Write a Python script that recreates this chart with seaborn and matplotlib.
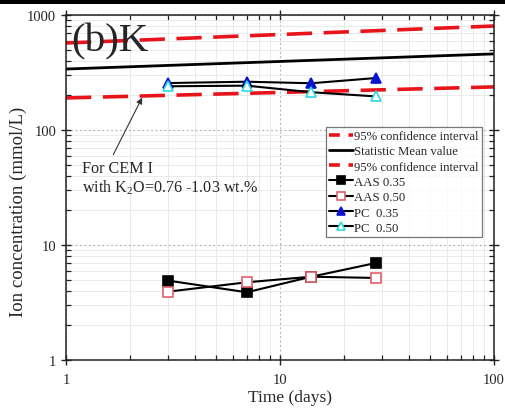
import numpy as np
import pandas as pd
import matplotlib
matplotlib.use("Agg")
import matplotlib.pyplot as plt
from matplotlib.patches import Rectangle
from matplotlib.ticker import LogLocator, NullFormatter, FixedFormatter, FixedLocator
import seaborn as sns

# Reference band for CEM I (K2O = 0.76 - 1.03 wt.%)
band_days = [1, 100]
ci_upper = [571, 802]
stat_mean = [339, 459]
ci_lower = [190, 237]

# Measured K concentrations in pore solution
days = [3, 7, 14, 28]
aas_035 = [4.9, 3.88, 5.3, 6.97]
aas_050 = [3.93, 4.74, 5.3, 5.17]
pc_035 = [256, 263, 255, 283]
pc_050 = [240, 243, 213, 196]

tick_vals = [1, 10, 100, 1000]
tick_labels = ["1", "10", "100", "1000"]

sns.set_theme(style="ticks")
plt.rcParams["font.family"] = ["Liberation Serif", "DejaVu Serif"]
plt.rcParams["mathtext.fontset"] = "custom"
plt.rcParams["mathtext.rm"] = "Liberation Serif"
plt.rcParams["mathtext.it"] = "Liberation Serif:italic"

fig = plt.figure(figsize=(5.06, 4.14), dpi=100)
ax = fig.add_axes([66 / 506, 1 - 361 / 414, 428 / 506, 345 / 414])

band = pd.DataFrame({"t": band_days, "up": ci_upper, "mean": stat_mean, "low": ci_lower})
red = "#e8141c"
dash = (0, (7, 3.2))
sns.lineplot(data=band, x="t", y="up", ax=ax, color=red, lw=2.6, linestyle=dash,
             label="95% confidence interval")
sns.lineplot(data=band, x="t", y="mean", ax=ax, color="black", lw=2.0,
             label="Statistic Mean value")
sns.lineplot(data=band, x="t", y="low", ax=ax, color=red, lw=2.6, linestyle=dash,
             label="95% confidence interval")

series = [
    ("AAS 0.35", aas_035, "s", "black", "black"),
    ("AAS 0.50", aas_050, "s", "white", "#e06070"),
    ("PC  0.35", pc_035, "^", "#0a14d0", "#0a14d0"),
    ("PC  0.50", pc_050, "^", "white", "#30d8e0"),
]
for name, vals, mk, face, edge in series:
    df = pd.DataFrame({"t": days, "c": vals})
    sns.lineplot(data=df, x="t", y="c", ax=ax, color="black", lw=1.5,
                 marker=mk, markersize=7.5 if mk == "^" else 6.5,
                 markerfacecolor=face, markeredgecolor=edge, markeredgewidth=1.2,
                 label=name)

ax.set_xscale("log")
ax.set_yscale("log")
ax.set_xlim(1, 100)
ax.set_ylim(1, 1000)

ax.xaxis.set_major_locator(FixedLocator([1, 10, 100]))
ax.xaxis.set_major_formatter(FixedFormatter(["1", "10", "100"]))
ax.yaxis.set_major_locator(FixedLocator(tick_vals))
ax.yaxis.set_major_formatter(FixedFormatter(tick_labels))
ax.xaxis.set_minor_locator(LogLocator(base=10, subs=np.arange(2, 10)))
ax.yaxis.set_minor_locator(LogLocator(base=10, subs=np.arange(2, 10)))
ax.xaxis.set_minor_formatter(NullFormatter())
ax.yaxis.set_minor_formatter(NullFormatter())

ax.grid(True, which="major", color="#b8b8b8", linestyle=(0, (2, 2)), lw=0.8)
ax.grid(True, which="minor", color="#e6e6e6", linestyle="-", lw=0.6)
ax.set_axisbelow(True)

ax.tick_params(which="major", direction="inout", length=7, width=1.0, labelsize=10.5,
               top=True, right=True, color="#222222")
ax.tick_params(which="minor", direction="in", length=3.5, width=0.9,
               top=True, right=True, color="#222222")
ax.tick_params(axis="x", which="major", pad=6)
for s in ax.spines.values():
    s.set_linewidth(1.1)
    s.set_color("#222222")

ax.set_xlabel("Time (days)", fontsize=12.5)
ax.set_ylabel("Ion concentration (mmol/L)", fontsize=13.5)
ax.xaxis.set_label_coords(0.523, -0.085)
ax.yaxis.set_label_coords(-0.09, 0.432)

ax.text(0.012, 0.978, "(b)K", transform=ax.transAxes, fontsize=29.5,
        ha="left", va="top")

ax.annotate("", xy=(2.3, 201), xytext=(1.64, 58),
            arrowprops=dict(arrowstyle="-|>", color="#333333", lw=0.8,
                            mutation_scale=9))
ax.text(1.19, 47, "For CEM I", fontsize=11.6, ha="left", va="center")
ax.text(1.19, 32, "with K$_{\\mathrm{2}}$O=0.76 -1.03 wt.%", fontsize=11.6,
        ha="left", va="center")

leg = ax.legend(loc="upper right", bbox_to_anchor=(0.972, 0.676), fontsize=9.2,
                frameon=True, fancybox=False, edgecolor="#555555",
                handlelength=1.9, handletextpad=0.1, labelspacing=0.26,
                borderpad=0.25, borderaxespad=0)
leg.get_frame().set_linewidth(0.9)
for i, ln in enumerate(leg.get_lines()):
    if i in (0, 2):
        ln.set_linestyle((0, (3.0, 2.4)))
    if ln.get_marker() not in (None, "None", ""):
        ln.set_markersize(5.5)

fig.patches.append(Rectangle((0, 1 - 5 / 414), 1, 5 / 414, transform=fig.transFigure,
                             facecolor="black", edgecolor="none"))

fig.savefig("out.png", dpi=100)
